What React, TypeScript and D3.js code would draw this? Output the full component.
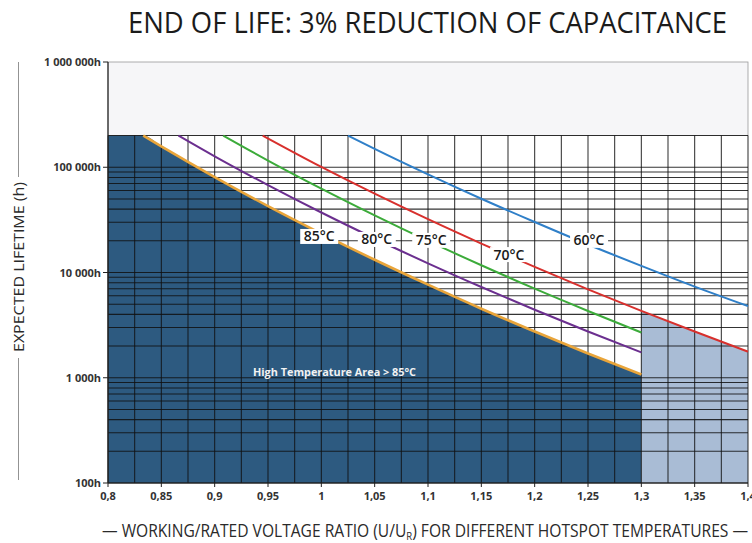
import React from 'react';
import * as d3 from 'd3';

const W = 752;
const H = 543;

// axis ticks
const ratioTicks = [0.8, 0.85, 0.9, 0.95, 1, 1.05, 1.1, 1.15, 1.2, 1.25, 1.3, 1.35, 1.4];
const hourTicks = [100, 1000, 10000, 100000, 1000000];
const gridCeiling = 200000; // grid stops here, pale band above
const ratioLimit = 1.3;     // curves below 70°C stop here

// lifetime curves
const temps = ['85°C', '80°C', '75°C', '70°C', '60°C'];
const colors = ['#e9a53a', '#6b2f8f', '#3cab3a', '#d8302d', '#2f7fc8'];

const t85Ratio = [0.833, 0.85, 0.9, 0.95, 1.0, 1.05, 1.1, 1.15, 1.2, 1.25, 1.3];
const t85Hours = [200000, 157800, 80700, 42750, 23440, 13210, 7660, 4530, 2750, 1700, 1075];

const t80Ratio = [0.866, 0.9, 0.95, 1.0, 1.05, 1.1, 1.15, 1.2, 1.25, 1.3];
const t80Hours = [200000, 127000, 67600, 37150, 21040, 12220, 7280, 4430, 2750, 1740];

const t75Ratio = [0.908, 0.95, 1.0, 1.05, 1.1, 1.15, 1.2, 1.25, 1.3];
const t75Hours = [200000, 115900, 62650, 34900, 19950, 11720, 7020, 4310, 2690];

const t70Ratio = [0.945, 1.0, 1.05, 1.1, 1.15, 1.2, 1.25, 1.3, 1.35, 1.4];
const t70Hours = [200000, 100700, 56100, 32100, 18840, 11300, 6920, 4320, 2750, 1770];

const t60Ratio = [1.025, 1.05, 1.1, 1.15, 1.2, 1.25, 1.3, 1.35, 1.4];
const t60Hours = [200000, 149600, 85600, 50200, 30200, 18460, 11560, 7350, 4800];

// where each temperature label sits (ratio, hours)
const labelRatio = [0.998, 1.052, 1.103, 1.176, 1.251];
const labelHours = [22000, 20600, 20200, 14800, 20200];

const seriesRatios = [t85Ratio, t80Ratio, t75Ratio, t70Ratio, t60Ratio];
const seriesHours = [t85Hours, t80Hours, t75Hours, t70Hours, t60Hours];

const x = d3.scaleLinear().domain([0.8, 1.4]).range([108, 748]);
const y = d3.scaleLog().domain([100, 1000000]).range([483, 62]);

const fmtHours = (v: number) => d3.format(',')(v).replace(/,/g, ' ') + 'h';
const fmtRatio = (v: number) => String(v).replace('.', ',');

const FONT = '"Open Sans", "DejaVu Sans", sans-serif';

export default function App() {
  const line = d3.line<[number, number]>()
    .x(d => x(d[0]))
    .y(d => y(d[1]))
    .curve(d3.curveMonotoneX);

  const area = d3.area<[number, number]>()
    .x(d => x(d[0]))
    .y0(y(100))
    .y1(d => y(d[1]))
    .curve(d3.curveMonotoneX);

  const series = seriesRatios.map((rs, i) => rs.map((r, j) => [r, seriesHours[i][j]] as [number, number]));

  // dark zone below the 85°C curve, light zone right of 1.3 below the 70°C curve
  const darkZone: [number, number][] = [[0.8, gridCeiling], ...series[0]];
  const lightZone = series[3].filter(d => d[0] >= ratioLimit);

  // log grid lines 1..9 per decade, up to the ceiling
  const hGrid: number[] = [];
  [100, 1000, 10000, 100000].forEach(d => {
    d3.range(1, 10).forEach(k => { if (k * d <= gridCeiling) hGrid.push(k * d); });
  });
  const vGrid = d3.range(0, 25).map(i => 0.8 + i * 0.025);

  const x0 = x(0.8), x1 = x(1.4);
  const yTop = y(1000000), yCeil = y(gridCeiling), yBot = y(100);

  return (
    <svg width={W} height={H} style={{ position: 'absolute', left: 0, top: 0, background: '#fff' }}>
      {/* title */}
      <text x={128} y={33} fontFamily={FONT} fontSize={29} fill="#1b1b1b"
        textLength={599} lengthAdjust="spacingAndGlyphs">
        END OF LIFE: 3% REDUCTION OF CAPACITANCE
      </text>

      {/* pale band above the grid */}
      <rect x={x0} y={yTop} width={x1 - x0} height={yCeil - yTop} fill="#f6f6f8" stroke="#9a9a9a" strokeWidth={0.8} />
      <rect x={x0} y={yCeil} width={x1 - x0} height={yBot - yCeil} fill="#fff" />

      <path d={area(darkZone) || ''} fill="#2d5a80" />
      <path d={area(lightZone) || ''} fill="#a9bcd5" />

      {/* grid */}
      <g stroke="#111" strokeOpacity={0.85} strokeWidth={1.05}>
        {hGrid.map(v => (
          <line key={'h' + v} x1={x0} x2={x1} y1={y(v)} y2={y(v)} />
        ))}
        {vGrid.map(v => (
          <line key={'v' + v} x1={x(v)} x2={x(v)} y1={yCeil} y2={yBot} />
        ))}
      </g>

      {/* curves */}
      {series.map((s, i) => (
        <path key={temps[i]} d={line(s) || ''} fill="none" stroke={colors[i]} strokeWidth={i === 0 ? 2.6 : 2} />
      ))}

      {/* curve labels */}
      {temps.map((t, i) => {
        const cx = x(labelRatio[i]);
        const cy = y(labelHours[i]);
        return (
          <g key={'l' + t}>
            <rect x={cx - 19} y={cy - 7.5} width={38} height={15} fill="#fff" />
            <text x={cx} y={cy + 5} textAnchor="middle" fontFamily={FONT} fontSize={14}
              fontWeight={600} fill="#1a1a1a">{t}</text>
          </g>
        );
      })}

      <text x={253} y={376} fontFamily={FONT} fontSize={11} fontWeight={700} fill="#f2f2f2"
        textLength={163} lengthAdjust="spacingAndGlyphs">
        High Temperature Area &gt; 85°C
      </text>

      {/* axes */}
      <line x1={x0} x2={x0} y1={yTop} y2={yBot} stroke="#222" strokeWidth={1.2} />
      <line x1={x0} x2={x1} y1={yBot} y2={yBot} stroke="#222" strokeWidth={1.2} />
      {hourTicks.map(v => (
        <g key={'yt' + v}>
          <line x1={x0 - 5} x2={x0} y1={y(v)} y2={y(v)} stroke="#222" />
          <text x={x0 - 7} y={y(v) + 4} textAnchor="end" fontFamily={FONT} fontSize={11}
            fontWeight={700} fill="#333">{fmtHours(v)}</text>
        </g>
      ))}
      {ratioTicks.map(v => (
        <g key={'xt' + v}>
          <line x1={x(v)} x2={x(v)} y1={yBot} y2={yBot + 4} stroke="#222" />
          <text x={x(v)} y={500} textAnchor="middle" fontFamily={FONT} fontSize={11}
            fontWeight={700} fill="#333">{fmtRatio(v)}</text>
        </g>
      ))}

      {/* y axis title */}
      <line x1={18.5} x2={18.5} y1={62} y2={177} stroke="#777" strokeWidth={0.8} />
      <line x1={18.5} x2={18.5} y1={358} y2={480} stroke="#777" strokeWidth={0.8} />
      <text transform="translate(24,267) rotate(-90)" textAnchor="middle" fontFamily={FONT}
        fontSize={15} fill="#2a2a2a" textLength={170} lengthAdjust="spacingAndGlyphs">
        EXPECTED LIFETIME (h)
      </text>

      {/* x axis title */}
      <text x={102} y={537} fontFamily={FONT} fontSize={18} fill="#2a2a2a"
        textLength={646} lengthAdjust="spacingAndGlyphs">
        — WORKING/RATED VOLTAGE RATIO (U/U<tspan fontSize={11} dy={3}>R</tspan><tspan dy={-3}>) FOR DIFFERENT HOTSPOT TEMPERATURES —</tspan>
      </text>
    </svg>
  );
}
